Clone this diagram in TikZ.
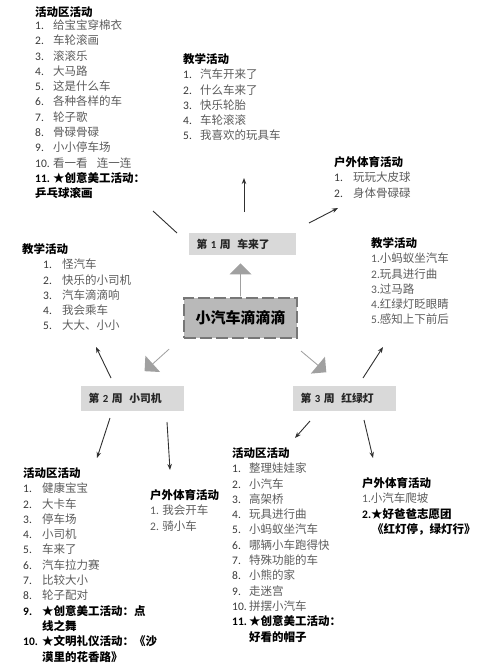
\documentclass[tikz,border=0pt]{standalone}
\usepackage{fontspec}
\setmainfont{Noto Sans CJK SC}
\newfontfamily\lat{Carlito}
\usepackage{array}
\usetikzlibrary{arrows.meta,shapes.arrows}
\definecolor{itemgray}{HTML}{5C5C5C}
\definecolor{numgray}{HTML}{383838}
\definecolor{weekfill}{HTML}{D9D9D9}
\definecolor{centerfill}{HTML}{B9B9B9}
\definecolor{centerdash}{HTML}{777777}
\definecolor{blkgray}{HTML}{A0A0A0}
\definecolor{linegray}{HTML}{303030}
\newcommand\nm[1]{{\lat #1}}
\begin{document}
\begin{tikzpicture}[x=1pt,y=1pt,
  lst/.style={anchor=base west, inner sep=0pt, text=black, font=\fontsize{11.5}{15.3}\selectfont},
  weekbox/.style={fill=weekfill, inner xsep=7.5pt, inner ysep=0pt, align=left, text=black!85, font=\fontsize{10.8}{12}\selectfont\bfseries},
  centerbox/.style={fill=centerfill, draw=centerdash, line width=2.5pt, dash pattern=on 12pt off 4pt, minimum width=113pt, minimum height=40pt, inner sep=0pt, font=\fontsize{15}{18}\selectfont\bfseries},
  blk/.style={shape=single arrow, fill=blkgray, draw=none, inner sep=0pt, minimum width=22pt, single arrow head extend=5pt, minimum height=33pt},
  arr/.style={draw=linegray, line width=0.9pt, -{Stealth[length=6pt,width=4.5pt]}},
  plain/.style={draw=linegray, line width=0.9pt}
]
\useasboundingbox (0,0) rectangle (500,-664);

% ---------- central and week boxes ----------
\node[centerbox] (c) at (240.5,-318) {小汽车滴滴滴};
\node[weekbox, text width=92pt, minimum height=22pt] (w1) at (242.5,-244) {第 \nm{1} 周\hspace{0.6em}车来了};
\node[weekbox, text width=88pt, minimum height=25pt] (w2) at (132.5,-398.5) {第 \nm{2} 周\hspace{0.6em}小司机};
\node[weekbox, text width=88pt, minimum height=25pt] (w3) at (344.5,-398.5) {第 \nm{3} 周\hspace{0.6em}红绿灯};

% ---------- block arrows ----------
\node[blk, rotate=90] (b1) at (240.5,-280) {};
\node[blk, rotate=222] (b2) at (157,-360) {};
\node[blk, rotate=-40] (b3) at (313.5,-361.5) {};

% ---------- lists ----------
\node[lst] (tl) at (35,-16.1) {\begin{tabular}[t]{@{}>{\lat\color{numgray}}w{l}{18pt}@{}>{\color{itemgray}}l@{}}
\multicolumn{2}{@{}l@{}}{\bfseries 活动区活动}\\[-2pt]
1. & 给宝宝穿棉衣\\
2. & 车轮滚画\\
3. & 滚滚乐\\
4. & 大马路\\
5. & 这是什么车\\
6. & 各种各样的车\\
7. & 轮子歌\\
8. & 骨碌骨碌\\
9. & 小小停车场\\
10. & 看一看\hspace{0.8em}连一连\\
\color{black}\bfseries 11. & \color{black}\bfseries ★创意美工活动：\\
\multicolumn{2}{@{}l@{}}{\bfseries 乒乓球滚画}
\end{tabular}};

\node[lst] (tm) at (183,-63.4) {\begin{tabular}[t]{@{}>{\lat\color{numgray}}w{l}{17pt}@{}>{\color{itemgray}}l@{}}
\multicolumn{2}{@{}l@{}}{\bfseries 教学活动}\\
1. & 汽车开来了\\
2. & 什么车来了\\
3. & 快乐轮胎\\
4. & 车轮滚滚\\
5. & 我喜欢的玩具车
\end{tabular}};

\node[lst] (tr) at (334,-166.4) {\begin{tabular}[t]{@{}>{\lat\color{numgray}}w{l}{19pt}@{}>{\color{itemgray}}l@{}}
\multicolumn{2}{@{}l@{}}{\bfseries 户外体育活动}\\
1. & 玩玩大皮球\\
2. & 身体骨碌碌
\end{tabular}};

\node[lst] (lm) at (22,-253.4) {\begin{tabular}[t]{@{\hspace{21pt}}>{\lat\color{numgray}}w{l}{19pt}@{}>{\color{itemgray}}l@{}}
\multicolumn{2}{@{}l@{}}{\bfseries 教学活动}\\
1. & 怪汽车\\
2. & 快乐的小司机\\
3. & 汽车滴滴响\\
4. & 我会乘车\\
5. & 大大、小小
\end{tabular}};

\node[lst] (rm) at (371,-247.4) {\begin{tabular}[t]{@{}>{\color{itemgray}}l@{}}
\color{black}\bfseries 教学活动\\
\nm{1.}小蚂蚁坐汽车\\
\nm{2.}玩具进行曲\\
\nm{3.}过马路\\
\nm{4.}红绿灯眨眼睛\\
\nm{5.}感知上下前后
\end{tabular}};

\node[lst] (bl) at (23,-477.4) {\begin{tabular}[t]{@{}>{\lat\color{numgray}}w{l}{19pt}@{}>{\color{itemgray}}l@{}}
\multicolumn{2}{@{}l@{}}{\bfseries 活动区活动}\\
1. & 健康宝宝\\
2. & 大卡车\\
3. & 停车场\\
4. & 小司机\\
5. & 车来了\\
6. & 汽车拉力赛\\
7. & 比较大小\\
8. & 轮子配对\\
\color{black}\bfseries 9. & \color{black}\bfseries ★创意美工活动：点\\
 & \color{black}\bfseries 线之舞\\
\color{black}\bfseries 10. & \color{black}\bfseries ★文明礼仪活动：《沙\\
 & \color{black}\bfseries 漠里的花香路》
\end{tabular}};

\node[lst] (blm) at (150,-499.4) {\begin{tabular}[t]{@{}>{\color{itemgray}}l@{}}
\color{black}\bfseries 户外体育活动\\
\nm{1. }我会开车\\
\nm{2. }骑小车
\end{tabular}};

\node[lst] (bm) at (232,-457.4) {\begin{tabular}[t]{@{}>{\lat\color{numgray}}w{l}{17pt}@{}>{\color{itemgray}}l@{}}
\multicolumn{2}{@{}l@{}}{\bfseries 活动区活动}\\
1. & 整理娃娃家\\
2. & 小汽车\\
3. & 高架桥\\
4. & 玩具进行曲\\
5. & 小蚂蚁坐汽车\\
6. & 哪辆小车跑得快\\
7. & 特殊功能的车\\
8. & 小熊的家\\
9. & 走迷宫\\
10. & 拼摆小汽车\\
\color{black}\bfseries 11. & \color{black}\bfseries ★创意美工活动：\\
 & \color{black}\bfseries 好看的帽子
\end{tabular}};

\node[lst] (br) at (362,-487.4) {\begin{tabular}[t]{@{}>{\color{itemgray}}l@{}}
\color{black}\bfseries 户外体育活动\\
\nm{1.}小汽车爬坡\\
\color{black}\bfseries{\lat 2.}★好爸爸志愿团\\
\color{black}\bfseries\hspace{10pt}《红灯停，绿灯行》
\end{tabular}};

% ---------- connector end points ----------
\coordinate (p1a) at (244,-212); \coordinate (p1b) at (244,-178);
\coordinate (p2a) at (309,-223); \coordinate (p2b) at (338,-208);
\coordinate (p3a) at (177,-233); \coordinate (p3b) at (153,-211);
\coordinate (p4a) at (111,-378); \coordinate (p4b) at (96,-347);
\coordinate (p5a) at (363,-378); \coordinate (p5b) at (383,-347);
\coordinate (p6a) at (110,-418); \coordinate (p6b) at (97,-458);
\coordinate (p7a) at (167,-422); \coordinate (p7b) at (170,-470);
\coordinate (p8a) at (310,-421); \coordinate (p8b) at (295,-438);
\coordinate (p9a) at (364,-420); \coordinate (p9b) at (373,-458);

\draw[arr] (p1a) -- (p1b);
\draw[arr] (p2a) -- (p2b);
\draw[plain] (p3a) -- (p3b);
\draw[arr] (p4a) -- (p4b);
\draw[arr] (p5a) -- (p5b);
\draw[arr] (p6a) -- (p6b);
\draw[arr] (p7a) -- (p7b);
\draw[arr] (p8a) -- (p8b);
\draw[arr] (p9a) -- (p9b);
\end{tikzpicture}
\end{document}
